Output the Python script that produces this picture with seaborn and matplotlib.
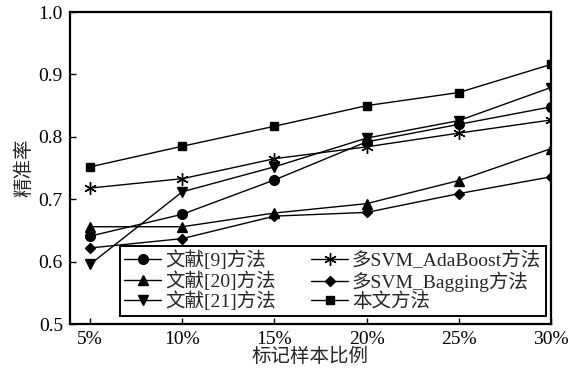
import matplotlib
matplotlib.use("Agg")
import matplotlib.pyplot as plt
import seaborn as sns
import pandas as pd

# label ratio (%) on the x axis
ratios = [5, 10, 15, 20, 25, 30]
tick_labels = ["5%", "10%", "15%", "20%", "25%", "30%"]

ref9 = [0.641, 0.676, 0.731, 0.792, 0.820, 0.848]
ref20 = [0.656, 0.656, 0.678, 0.693, 0.730, 0.781]
ref21 = [0.596, 0.712, 0.752, 0.798, 0.826, 0.879]
svm_adaboost = [0.718, 0.733, 0.765, 0.784, 0.806, 0.827]
svm_bagging = [0.622, 0.637, 0.673, 0.679, 0.709, 0.736]
ours = [0.752, 0.785, 0.817, 0.850, 0.871, 0.916]

series = [
    ("文献[9]方法", ref9, "o", 7),
    ("文献[20]方法", ref20, "^", 7),
    ("文献[21]方法", ref21, "v", 7),
    ("多SVM_AdaBoost方法", svm_adaboost, (6, 2, 0), 9),
    ("多SVM_Bagging方法", svm_bagging, "D", 5.5),
    ("本文方法", ours, "s", 6),
]

sns.set_style("ticks")
plt.rcParams["font.family"] = ["Liberation Serif", "Noto Sans CJK SC"]
plt.rcParams["axes.unicode_minus"] = False

fig = plt.figure(figsize=(5.78, 3.76), dpi=100)
ax = fig.add_axes([0.121, 0.138, 0.832, 0.830])

for name, vals, mk, ms in series:
    df = pd.DataFrame({"ratio": ratios, "val": vals})
    sns.lineplot(data=df, x="ratio", y="val", ax=ax, color="black",
                 linewidth=1.0, marker=mk, markersize=ms,
                 markeredgecolor="black", markerfacecolor="black",
                 markeredgewidth=1.0, label=name)

ax.set_xlim(3.9, 30)
ax.set_ylim(0.5, 1.0)
ax.set_xticks(ratios)
ax.set_xticklabels(tick_labels)
ax.set_yticks([0.5, 0.6, 0.7, 0.8, 0.9, 1.0])
ax.set_yticklabels(["0.5", "0.6", "0.7", "0.8", "0.9", "1.0"])
ax.tick_params(direction="in", length=4, width=1, labelsize=14, colors="black", pad=5)

for sp in ax.spines.values():
    sp.set_linewidth(1.6)
    sp.set_color("black")

ax.set_xlabel("标记样本比例", fontsize=14, labelpad=0)
ax.set_ylabel("精准率", fontsize=14, labelpad=4)

leg = ax.legend(loc="lower right", bbox_to_anchor=(0.99, 0.026), ncol=2,
                fontsize=14, frameon=True, fancybox=False, borderaxespad=0,
                handlelength=1.9, handletextpad=0.2, labelspacing=0.05,
                columnspacing=1.8, borderpad=0.25)
leg.get_frame().set_edgecolor("black")
leg.get_frame().set_linewidth(1.4)
leg.get_frame().set_alpha(1)

fig.savefig("out.png", dpi=100)
